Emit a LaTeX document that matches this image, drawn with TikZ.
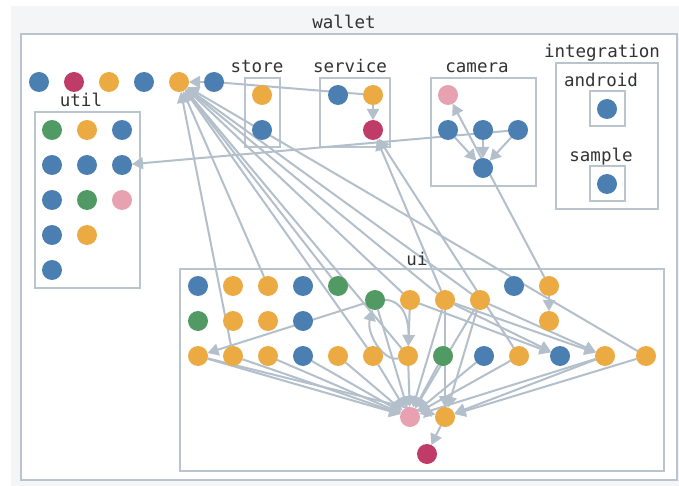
\documentclass[tikz,border=0pt]{standalone}
\usepackage{fontspec}
\setmonofont{DejaVu Sans Mono}
\usetikzlibrary{arrows.meta}
\pgfdeclarelayer{boxes}
\pgfdeclarelayer{edges}
\pgfsetlayers{boxes,edges,main}

\definecolor{modblue}{HTML}{4B7FB1}
\definecolor{modorange}{HTML}{EBAA42}
\definecolor{modgreen}{HTML}{529A63}
\definecolor{modred}{HTML}{C03C68}
\definecolor{modpink}{HTML}{E7A1B1}
\definecolor{edgegray}{HTML}{B3BFCA}
\definecolor{boxgray}{HTML}{B9C4CF}
\definecolor{bggray}{HTML}{F4F5F7}
\definecolor{labelgray}{HTML}{333333}

\begin{document}
\begin{tikzpicture}[x=1pt,y=-1pt,
  mod/.style={circle,minimum size=20pt,inner sep=0pt,outer sep=0pt},
  bl/.style={mod,fill=modblue},
  og/.style={mod,fill=modorange},
  gr/.style={mod,fill=modgreen},
  rd/.style={mod,fill=modred},
  pk/.style={mod,fill=modpink},
  dep/.style={draw=edgegray,line width=2pt,-{Triangle[length=11pt,width=12pt]}},
  link/.style={draw=edgegray,line width=2pt},
  group/.style={draw=boxgray,line width=1.3pt},
  lbl/.style={font=\ttfamily\fontsize{17.5}{18}\selectfont,text=labelgray,anchor=base,inner sep=0pt}
]
\useasboundingbox (0,0) rectangle (679,486);

% ---------- frames ----------
\begin{pgfonlayer}{boxes}
  \fill[bggray] (11,6) rectangle (679,486);
  \filldraw[fill=white,draw=boxgray,line width=1.3pt] (21,34) rectangle (677,480);
  \draw[group] (35,112) rectangle (140,288);
  \draw[group] (245,78) rectangle (280,147);
  \draw[group] (320,78) rectangle (390,147);
  \draw[group] (431,78) rectangle (536,186);
  \draw[group] (556,63) rectangle (658,209);
  \draw[group] (590,91) rectangle (625,126);
  \draw[group] (590,166) rectangle (625,201);
  \draw[group] (180,269) rectangle (664,471);
\end{pgfonlayer}

\node[lbl] (tw) at (344,29) {wallet};
\node[lbl] (tu) at (81,107) {util};
\node[lbl] (ts) at (257,73) {store};
\node[lbl] (tv) at (350,73) {service};
\node[lbl] (tc) at (477,73) {camera};
\node[lbl] (ti) at (602,58) {integration};
\node[lbl] (ta) at (601,87) {android};
\node[lbl] (tp) at (601,162) {sample};
\node[lbl] (tui) at (417,265) {ui};

% ---------- wallet ----------
\node[bl] (w1) at (39,82) {};
\node[rd] (w2) at (74,82) {};
\node[og] (w3) at (109,82) {};
\node[bl] (w4) at (144,82) {};
\node[og] (w5) at (179,82) {};
\node[bl] (w6) at (214,82) {};

% util
\node[gr] (u11) at (52,130) {};
\node[og] (u12) at (87,130) {};
\node[bl] (u13) at (122,130) {};
\node[bl] (u21) at (52,165) {};
\node[bl] (u22) at (87,165) {};
\node[bl] (u23) at (122,165) {};
\node[bl] (u31) at (52,200) {};
\node[gr] (u32) at (87,200) {};
\node[pk] (u33) at (122,200) {};
\node[bl] (u41) at (52,235) {};
\node[og] (u42) at (87,235) {};
\node[bl] (u51) at (52,270) {};

% store
\node[og] (s1) at (262,95) {};
\node[bl] (s2) at (262,130) {};

% service
\node[bl] (v1) at (338,95) {};
\node[og] (v2) at (373,95) {};
\node[rd] (v3) at (373,130) {};

% camera
\node[pk] (c1) at (448,95) {};
\node[bl] (c2) at (448,130) {};
\node[bl] (c3) at (483,130) {};
\node[bl] (c4) at (518,130) {};
\node[bl] (c5) at (483,168) {};

% integration
\node[bl] (a1) at (607,109) {};
\node[bl] (p1) at (607,184) {};

% ui
\node[bl] (A1) at (198,286) {};
\node[og] (A2) at (233,286) {};
\node[og] (A3) at (268,286) {};
\node[bl] (A4) at (303,286) {};
\node[gr] (A5) at (338,286) {};
\node[bl] (A6) at (514,286) {};
\node[og] (A7) at (549,286) {};

\node[gr] (B1) at (375,300) {};
\node[og] (B2) at (410,300) {};
\node[og] (B3) at (445,300) {};
\node[og] (B4) at (480,300) {};

\node[gr] (C1) at (198,321) {};
\node[og] (C2) at (233,321) {};
\node[og] (C3) at (268,321) {};
\node[bl] (C4) at (303,321) {};
\node[og] (C5) at (549,321) {};

\node[og] (D1) at (198,356) {};
\node[og] (D2) at (233,356) {};
\node[og] (D3) at (268,356) {};
\node[bl] (D4) at (303,356) {};
\node[og] (D5) at (338,356) {};
\node[og] (D6) at (373,356) {};
\node[og] (D7) at (408,356) {};
\node[gr] (D8) at (443,356) {};
\node[bl] (D9) at (484,356) {};
\node[og] (D10) at (519,356) {};
\node[bl] (D11) at (560,356) {};
\node[og] (D12) at (605,356) {};
\node[og] (D13) at (646,356) {};

\node[pk] (E1) at (410,417) {};
\node[og] (E2) at (445,417) {};
\node[rd] (F1) at (427,454) {};

% ---------- dependencies ----------
\begin{pgfonlayer}{edges}
  \draw[dep] (w6) -- (w5);
  \draw[link] (v2) -- (w6);
  \draw[dep] (v2) -- (v3);
  \draw[dep] (c2) -- (c5);
  \draw[dep] (c3) -- (c5);
  \draw[dep] (c4) -- (c5);
  \draw[dep] (c4) -- (u23);
  \draw[dep] (A7) -- (c1);
  \draw[dep] (A7) -- (C5);

  \foreach \s in {D2,A3,A5,D6,D7,B2,B3,B4,D13}
    \draw[dep] (\s) -- (w5);

  \draw[dep] (B3) -- (v3);
  \draw[dep] (D10) -- (v3);

  \draw[dep] (B1) -- (D1);
  \draw[dep] (B1) .. controls (402,300) and (409,318) .. (D7);
  \draw[dep] (D7) .. controls (384,362) and (366,334) .. (B1);
  \draw[dep] (B2) -- (D7);
  \draw[dep] (B2) -- (D11);
  \draw[dep] (B3) -- (D11);
  \draw[dep] (B3) -- (D12);
  \draw[dep] (B4) -- (D12);

  \foreach \s in {D1,D2,D3,D4,D5,D6,D7,D8,D9,D10,D12,B1,B3,B4}
    \draw[dep] (\s) -- (E1);
  \foreach \s in {D1,B3,B4,D12,D13}
    \draw[dep] (\s) -- (E2);
  \draw[dep] (E2) -- (F1);
\end{pgfonlayer}
\end{tikzpicture}
\end{document}
